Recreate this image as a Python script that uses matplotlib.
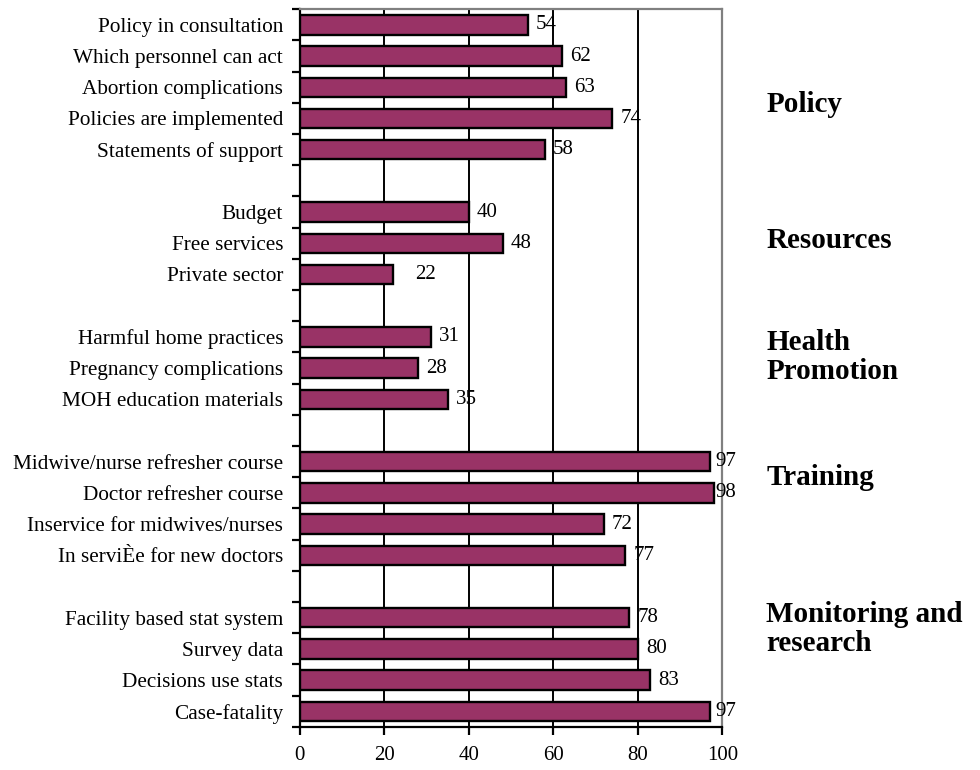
import matplotlib
matplotlib.use('Agg')
import matplotlib.pyplot as plt
from matplotlib.ticker import FixedLocator

plt.rcParams['font.family'] = ['Liberation Serif', 'DejaVu Serif']

# categories from top to bottom, '' marks the gap between groups
items = ['Policy in consultation', 'Which personnel can act', 'Abortion complications',
         'Policies are implemented', 'Statements of support', '',
         'Budget', 'Free services', 'Private sector', '',
         'Harmful home practices', 'Pregnancy complications', 'MOH education materials', '',
         'Midwive/nurse refresher course', 'Doctor refresher course',
         'Inservice for midwives/nurses', 'In serviÈe for new doctors', '',
         'Facility based stat system', 'Survey data', 'Decisions use stats', 'Case-fatality']
scores = [54, 62, 63, 74, 58, None,
          40, 48, 22, None,
          31, 28, 35, None,
          97, 98, 72, 77, None,
          78, 80, 83, 97]
groups = ['Policy', 'Resources', 'Health\nPromotion', 'Training', 'Monitoring and\nresearch']
group_y = [0.864, 0.688, 0.536, 0.380, 0.183]
xticks = [0, 20, 40, 60, 80, 100]

fig = plt.figure(figsize=(9.8, 7.7), dpi=100)
ax = fig.add_axes([0.306, 0.056, 0.431, 0.932])

pos = [i for i, v in enumerate(scores) if v is not None]
vals = [v for v in scores if v is not None]
ax.barh(pos, vals, height=0.62, color='#993366', edgecolor='black', linewidth=1.7, zorder=3)

for p, v in zip(pos, vals):
    lx = min(v + 1.9, 98.3)
    if items[p] == 'Private sector':
        lx += 3.4
    ax.text(lx, p, str(v), va='center', ha='left', fontsize=15, zorder=4)

ax.set_xlim(0, 100)
ax.set_ylim(len(items) - 0.5, -0.5)
ax.set_xticks(xticks)
ax.set_xticklabels([str(t) for t in xticks], fontsize=15)
ax.xaxis.grid(True, color='black', linewidth=1.4, zorder=1)

ax.set_yticks(range(len(items)))
ax.set_yticklabels(items, fontsize=15.3)
ax.yaxis.set_minor_locator(FixedLocator([i - 0.5 for i in range(len(items) + 1)]))
ax.tick_params(axis='y', which='major', length=0, pad=12)
ax.tick_params(axis='y', which='minor', length=6, width=1.6, direction='out')
ax.tick_params(axis='x', length=6, width=1.6, direction='out', pad=8)

ax.spines['left'].set_linewidth(1.6)
ax.spines['bottom'].set_linewidth(1.6)
ax.spines['right'].set_color('#808080')
ax.spines['top'].set_color('#808080')
ax.spines['right'].set_linewidth(1.6)
ax.spines['top'].set_linewidth(1.6)

for g, gy in zip(groups, group_y):
    fig.text(0.782, gy, g, fontsize=21, fontweight='bold', va='center', ha='left',
             linespacing=1.1)

fig.savefig('out.png', dpi=100)
